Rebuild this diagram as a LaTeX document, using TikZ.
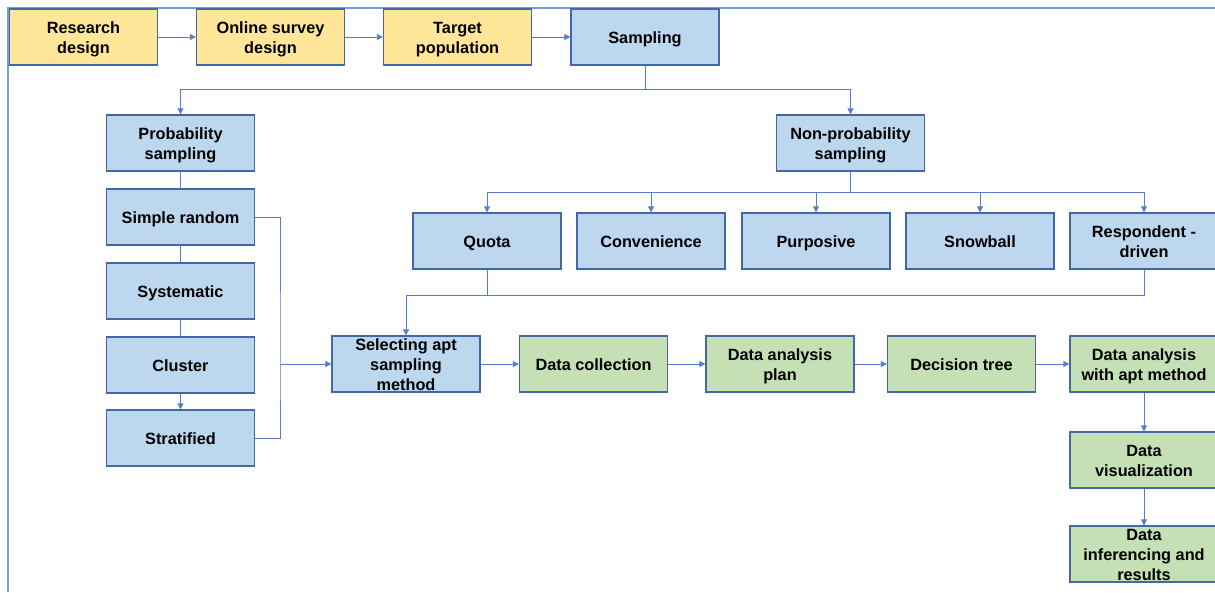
\documentclass[tikz,border=0pt]{standalone}
\usepackage{fontspec}
\setmainfont{Liberation Sans}
\usetikzlibrary{arrows.meta}
\definecolor{cyel}{RGB}{255,230,153}
\definecolor{cblue}{RGB}{189,215,238}
\definecolor{cgreen}{RGB}{197,224,180}
\definecolor{cborder}{RGB}{68,103,165}
\definecolor{cline}{RGB}{85,125,205}
\definecolor{cframe}{RGB}{110,160,220}
\newcommand{\topstrut}{\rule{0pt}{16.5pt}}
\newcommand{\botstrut}{\rule[-3.45pt]{0pt}{3.45pt}}
\tikzset{
  box/.style={draw=cborder, line width=1.3pt, minimum width=148pt, minimum height=56pt,
    inner sep=0pt, align=center, font=\fontsize{16.3}{20}\selectfont\bfseries},
  tall/.style={inner ysep=-2.5pt},
  ybox/.style={box, fill=cyel},
  bbox/.style={box, fill=cblue},
  gbox/.style={box, fill=cgreen},
  conn/.style={draw=cline, line width=0.8pt},
  arr/.style={conn, -{Triangle[length=6pt,width=6pt]}},
}
\begin{document}
\begin{tikzpicture}[x=1pt,y=-1pt]
\useasboundingbox (0,0) rectangle (1215,592);
% outer frame
\draw[cframe, line width=2pt] (8,592) -- (8,7.5) -- (1215,7.5);
% top row
\node[ybox] (rd) at (83.5,37) {\topstrut Research\\design\botstrut};
\node[ybox] (osd) at (270.5,37) {\topstrut Online survey\\design\botstrut};
\node[ybox] (tp) at (457.5,37) {\topstrut Target\\population\botstrut};
\node[bbox] (samp) at (645,37) {\topstrut Sampling\botstrut};
% probability
\node[bbox] (prob) at (180.5,143) {\topstrut Probability\\sampling\botstrut};
\node[bbox] (simple) at (180.5,217) {\topstrut Simple random\botstrut};
\node[bbox] (syst) at (180.5,291) {\topstrut Systematic\botstrut};
\node[bbox] (clus) at (180.5,365) {\topstrut Cluster\botstrut};
\node[bbox] (strat) at (180.5,438) {\topstrut Stratified\botstrut};
% non-probability
\node[bbox] (nonprob) at (850.5,143) {\topstrut Non-probability\\sampling\botstrut};
\node[bbox] (quota) at (487,241) {\topstrut Quota\botstrut};
\node[bbox] (conv) at (651,241) {\topstrut Convenience\botstrut};
\node[bbox] (purp) at (816,241) {\topstrut Purposive\botstrut};
\node[bbox] (snow) at (980,241) {\topstrut Snowball\botstrut};
\node[bbox] (resp) at (1144,241) {\topstrut Respondent -\\driven\botstrut};
% bottom chain
\node[bbox, tall] (sel) at (406,364) {\topstrut Selecting apt\\sampling\\method\botstrut};
\node[gbox] (dcol) at (593.5,364) {\topstrut Data collection\botstrut};
\node[gbox] (dap) at (780,364) {\topstrut Data analysis\\plan\botstrut};
\node[gbox] (dt) at (961.5,364) {\topstrut Decision tree\botstrut};
\node[gbox] (daa) at (1144,364) {\topstrut Data analysis\\with apt method\botstrut};
\node[gbox] (dv) at (1144,460) {\topstrut Data\\visualization\botstrut};
\node[gbox, tall] (dir) at (1144,554) {\topstrut Data\\inferencing and\\results\botstrut};
% top arrows
\draw[arr] (rd) -- (osd);
\draw[arr] (osd) -- (tp);
\draw[arr] (tp) -- (samp);
% sampling split
\coordinate (sj) at (645,89);
\draw[conn] (samp.south) -- (sj);
\draw[arr] (sj) -| (prob.north);
\draw[arr] (sj) -| (nonprob.north);
% probability chain
\draw[conn] (prob) -- (simple);
\draw[conn] (simple) -- (syst);
\draw[conn] (syst) -- (clus);
\draw[arr] (clus) -- (strat);
% bracket to selecting
\coordinate (bx) at (280,364);
\draw[conn] (simple.east) -| (bx) |- (strat.east);
\draw[arr] (bx) -- (sel.west);
% non-prob split
\coordinate (nj) at (850.5,192);
\draw[conn] (nonprob.south) -- (nj);
\draw[arr] (nj) -| (quota.north);
\draw[arr] (nj) -| (conv.north);
\draw[arr] (nj) -| (purp.north);
\draw[arr] (nj) -| (snow.north);
\draw[arr] (nj) -| (resp.north);
% merge to selecting
\coordinate (mq) at (487,295);
\draw[conn] (quota.south) -- (mq);
\draw[conn] (resp.south) |- (mq);
\draw[arr] (mq) -| (sel.north);
% bottom chain arrows
\draw[arr] (sel) -- (dcol);
\draw[arr] (dcol) -- (dap);
\draw[arr] (dap) -- (dt);
\draw[arr] (dt) -- (daa);
\draw[arr] (daa) -- (dv);
\draw[arr] (dv) -- (dir);
\end{tikzpicture}
\end{document}
